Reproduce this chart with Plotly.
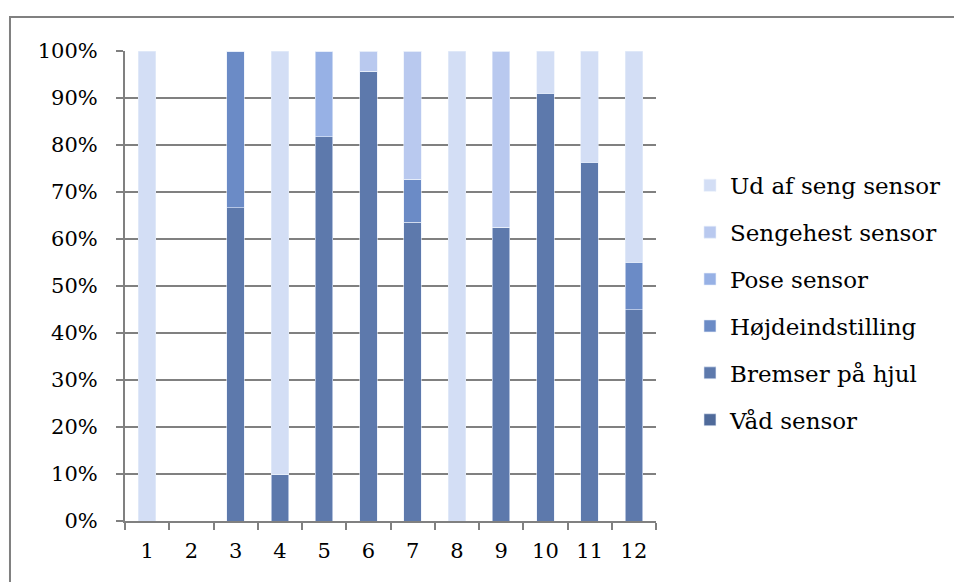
import plotly.graph_objects as go

categories = ["1", "2", "3", "4", "5", "6", "7", "8", "9", "10", "11", "12"]
series_names = ["Våd sensor", "Bremser på hjul", "Højdeindstilling",
                "Pose sensor", "Sengehest sensor", "Ud af seng sensor"]
vaad = [0, 0, 0, 0, 0, 0, 0, 0, 0, 0, 0, 0]
bremser = [0, 0, 66.7, 10, 81.8, 95.7, 63.6, 0, 62.5, 90.9, 76.2, 45]
hoejde = [0, 0, 33.3, 0, 0, 0, 9.1, 0, 0, 0, 0, 10]
pose = [0, 0, 0, 0, 18.2, 0, 0, 0, 0, 0, 0, 0]
sengehest = [0, 0, 0, 0, 0, 4.3, 27.3, 0, 37.5, 0, 0, 0]
ud = [100, 0, 0, 90, 0, 0, 0, 100, 0, 9.1, 23.8, 45]
colors = ["#4F6A9A", "#5D79AC", "#6B8BC6", "#97B1E5", "#B9C9EF", "#D3DEF5"]
y_ticks = [0, 10, 20, 30, 40, 50, 60, 70, 80, 90, 100]
y_tick_labels = [f"{v}%" for v in y_ticks]

series_values = [vaad, bremser, hoejde, pose, sengehest, ud]

fig = go.Figure()
n = len(series_names)
for i, (name, vals, col) in enumerate(zip(series_names, series_values, colors)):
    fig.add_trace(go.Bar(
        x=categories, y=vals, name=name, legendgroup=name, legendrank=n - i,
        marker=dict(color=col, line=dict(color="#E8EEFA", width=0.6)),
    ))

font_family = "DejaVu Serif"
fig.update_layout(
    width=954, height=574,
    barmode="stack", bargap=0.6,
    paper_bgcolor="white", plot_bgcolor="white",
    margin=dict(l=117, r=306, t=43, b=61),
    font=dict(family=font_family, size=21, color="black"),
    legend=dict(x=1.064, xanchor="left", y=0.76, yanchor="top",
                traceorder="grouped", tracegroupgap=14,
                font=dict(size=23, family=font_family), itemwidth=30,
                bgcolor="rgba(0,0,0,0)"),
    showlegend=True,
)
fig.update_xaxes(
    type="category", showgrid=False, showline=True, linecolor="#808080", linewidth=2,
    ticks="outside", ticklen=7, tickwidth=2, tickcolor="#808080", tickson="boundaries",
    ticklabelstandoff=10, fixedrange=True,
)
fig.update_yaxes(
    range=[0, 100], tickvals=y_ticks, ticktext=y_tick_labels,
    showgrid=True, gridcolor="#808080", gridwidth=2,
    showline=True, linecolor="#808080", linewidth=2,
    ticks="outside", ticklen=7, tickwidth=2, tickcolor="#808080",
    ticklabelstandoff=14, zeroline=False,
)
fig.add_shape(type="rect", xref="paper", yref="paper",
              x0=-0.2166, x1=1.6, y0=-0.2, y1=1.0723,
              line=dict(color="#808080", width=2), fillcolor="rgba(0,0,0,0)", layer="below")

fig.write_html("out.html")
